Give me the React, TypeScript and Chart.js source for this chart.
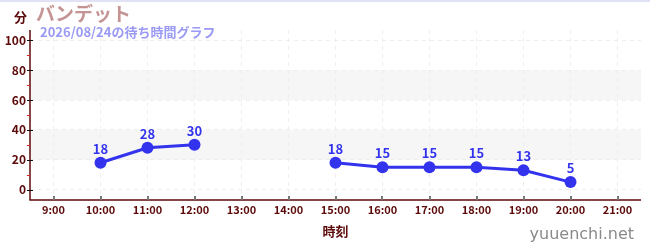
import React, { useEffect, useRef } from "react";
import { Chart, registerables } from "chart.js";

Chart.register(...registerables);

// Wait times (minutes) by hour of day; null = no record
const hours = [10, 11, 12, 13, 14, 15, 16, 17, 18, 19, 20];
const waits: (number | null)[] = [18, 28, 30, null, null, 18, 15, 15, 15, 13, 5];
const xTickHours = [9, 10, 11, 12, 13, 14, 15, 16, 17, 18, 19, 20, 21];
const yTickValues = [0, 20, 40, 60, 80, 100];
const yMinorValues = [10, 30, 50, 70, 90];
const shadedBands = [[20, 40], [60, 80]];

const titleText = "バンデット";
const subtitleText = "2026/08/24の待ち時間グラフ";
const yUnitText = "分";
const xAxisText = "時刻";
const siteText = "yuuenchi.net";

const MAROON = "#5c0a0a";
const LINE_BLUE = "#3333ee";
const GRID = "#eeeeee";
const JP_FONT = "'Noto Sans CJK JP', 'Noto Sans', sans-serif";

const decorPlugin = {
  id: "decor",
  beforeDraw(chart: any) {
    const { ctx, chartArea } = chart;
    const y = chart.scales.y;
    ctx.save();
    ctx.fillStyle = "#f6f6f6";
    for (const [lo, hi] of shadedBands) {
      const top = y.getPixelForValue(hi);
      const bottom = y.getPixelForValue(lo);
      ctx.fillRect(chartArea.left, top, chartArea.right - chartArea.left, bottom - top);
    }
    // thin top rule
    ctx.fillStyle = "#e2e2f6";
    ctx.fillRect(0, 0, chart.width, 2);
    ctx.restore();
  },
  afterDatasetsDraw(chart: any) {
    const { ctx, chartArea } = chart;
    const x = chart.scales.x;
    const y = chart.scales.y;
    ctx.save();

    // solid axis lines
    ctx.strokeStyle = MAROON;
    ctx.lineWidth = 1.5;
    ctx.beginPath();
    ctx.moveTo(chartArea.left, chartArea.top);
    ctx.lineTo(chartArea.left, chartArea.bottom);
    ctx.lineTo(chartArea.right, chartArea.bottom);
    ctx.stroke();

    // y major ticks crossing the axis
    ctx.lineWidth = 1;
    ctx.strokeStyle = "#111";
    for (const v of yTickValues) {
      const py = Math.round(y.getPixelForValue(v)) + 0.5;
      ctx.beginPath();
      ctx.moveTo(chartArea.left - 3, py);
      ctx.lineTo(chartArea.left + 3, py);
      ctx.stroke();
    }
    // y minor ticks
    ctx.strokeStyle = "#dd2222";
    for (const v of yMinorValues) {
      const py = Math.round(y.getPixelForValue(v)) + 0.5;
      ctx.beginPath();
      ctx.moveTo(chartArea.left - 3, py);
      ctx.lineTo(chartArea.left, py);
      ctx.stroke();
    }
    // x ticks inside the plot
    ctx.strokeStyle = "#777";
    ctx.lineWidth = 2;
    for (const h of xTickHours) {
      const px = Math.round(x.getPixelForValue(h));
      ctx.beginPath();
      ctx.moveTo(px, chartArea.bottom - 4);
      ctx.lineTo(px, chartArea.bottom);
      ctx.stroke();
    }

    // value labels above points
    const meta = chart.getDatasetMeta(0);
    ctx.fillStyle = LINE_BLUE;
    ctx.font = `bold 13px ${JP_FONT}`;
    ctx.textAlign = "center";
    ctx.textBaseline = "middle";
    meta.data.forEach((pt: any, i: number) => {
      const v = waits[i];
      if (v === null || v === undefined) return;
      ctx.fillText(String(v), pt.x, pt.y - 14);
    });

    // header texts
    ctx.textAlign = "left";
    ctx.fillStyle = MAROON;
    ctx.font = `bold 13px ${JP_FONT}`;
    ctx.fillText(yUnitText, 14, 17);

    ctx.fillStyle = "#c49494";
    ctx.font = `bold 19px ${JP_FONT}`;
    ctx.fillText(titleText, 36, 14);

    ctx.fillStyle = "#9a9af4";
    ctx.font = `bold 13px ${JP_FONT}`;
    ctx.fillText(subtitleText, 40, 32);

    // axis title
    ctx.textAlign = "center";
    ctx.fillStyle = MAROON;
    ctx.font = `bold 13px ${JP_FONT}`;
    ctx.fillText(xAxisText, (chartArea.left + chartArea.right) / 2, 231);

    // site mark
    ctx.textAlign = "right";
    ctx.fillStyle = "#8a8a8a";
    ctx.font = `16px 'DejaVu Sans', sans-serif`;
    ctx.fillText(siteText, 634, 235);

    ctx.restore();
  },
};

export default function App() {
  const canvasRef = useRef<HTMLCanvasElement | null>(null);

  useEffect(() => {
    if (!canvasRef.current) return;
    const chart = new Chart(canvasRef.current, {
      type: "line",
      data: {
        datasets: [
          {
            data: hours.map((h, i) => ({ x: h, y: waits[i] })) as any,
            borderColor: LINE_BLUE,
            backgroundColor: LINE_BLUE,
            borderWidth: 3,
            pointRadius: 6,
            pointHoverRadius: 6,
            pointBackgroundColor: LINE_BLUE,
            pointBorderWidth: 0,
            spanGaps: false,
            tension: 0,
          },
        ],
      },
      options: {
        animation: false,
        responsive: true,
        maintainAspectRatio: false,
        layout: { padding: { top: 30, right: 9, left: 0, bottom: 0 } },
        plugins: {
          legend: { display: false },
          tooltip: { enabled: false },
          title: { display: false },
        },
        scales: {
          x: {
            type: "linear",
            min: 8.5,
            max: 21.5,
            afterFit: (s: any) => {
              s.height = 50;
            },
            afterBuildTicks: (s: any) => {
              s.ticks = xTickHours.map((v) => ({ value: v }));
            },
            grid: {
              color: GRID,
              drawTicks: false,
            },
            border: { display: false, dash: [4, 4] },
            ticks: {
              padding: 3,
              autoSkip: false,
              maxRotation: 0,
              color: MAROON,
              font: { family: JP_FONT, size: 11, weight: "bold" },
              callback: (v: any) => `${v}:00`,
            },
          },
          y: {
            type: "linear",
            min: -7,
            max: 107,
            afterFit: (s: any) => {
              s.width = 30;
            },
            afterBuildTicks: (s: any) => {
              s.ticks = yTickValues.map((v) => ({ value: v }));
            },
            grid: {
              color: GRID,
              drawTicks: false,
            },
            border: { display: false, dash: [4, 4] },
            ticks: {
              padding: 4,
              color: MAROON,
              font: { family: JP_FONT, size: 12, weight: "bold" },
            },
          },
        },
      } as any,
      plugins: [decorPlugin],
    });
    return () => chart.destroy();
  }, []);

  return (
    <div style={{ position: "fixed", left: 0, top: 0, width: 650, height: 250, background: "#fff" }}>
      <canvas ref={canvasRef} />
    </div>
  );
}
